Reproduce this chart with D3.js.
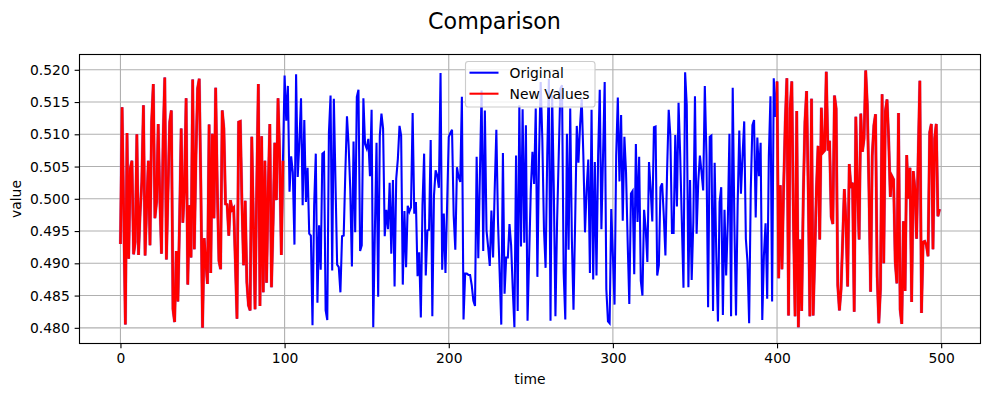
<html>
<head>
    <script src="https://cdnjs.cloudflare.com/ajax/libs/d3/7.8.5/d3.min.js"></script>
    <style>
        html, body { margin: 0; padding: 0; background: white; }
        svg { display: block; font-family: "DejaVu Sans"; }
        .tick text { font-size: 13.89px; font-family: "DejaVu Sans"; fill: #000; }
        .label { font-size: 13.89px; fill: #000; }
    </style>
</head>
<body>
    <script>
        // values, one per time step
        var original = [
            0.4930, 0.5142, 0.4975, 0.4805, 0.5102, 0.4907, 0.5047, 0.5059, 0.4914, 0.4933,
            0.5100, 0.4913, 0.4979, 0.5026, 0.5145, 0.4912, 0.4990, 0.5059, 0.4928, 0.5119,
            0.5178, 0.4970, 0.4995, 0.5116, 0.5000, 0.4915, 0.5093, 0.5188, 0.4906, 0.5015,
            0.5119, 0.5137, 0.4829, 0.4809, 0.4919, 0.4841, 0.4964, 0.5109, 0.4963, 0.5015,
            0.5156, 0.4867, 0.4990, 0.4909, 0.5185, 0.4922, 0.5067, 0.5171, 0.5186, 0.5015,
            0.4800, 0.4939, 0.4902, 0.4868, 0.5115, 0.4885, 0.5101, 0.4970, 0.5172, 0.5015,
            0.4904, 0.4891, 0.5137, 0.5109, 0.4992, 0.4991, 0.4943, 0.4998, 0.4983, 0.4986,
            0.4902, 0.4814, 0.5119, 0.5120, 0.4995, 0.4897, 0.4997, 0.4871, 0.4835, 0.4827,
            0.5096, 0.4964, 0.4829, 0.5015, 0.5178, 0.4834, 0.5097, 0.4855, 0.5059, 0.4870,
            0.5015, 0.5116, 0.4863, 0.4964, 0.5087, 0.4998, 0.5156, 0.5067, 0.4913, 0.5059,
            0.5191, 0.5121, 0.5175, 0.5011, 0.5066, 0.5041, 0.4929, 0.5193, 0.5034, 0.5088,
            0.5156, 0.4990, 0.5122, 0.4995, 0.5048, 0.4946, 0.4943, 0.4804, 0.4990, 0.5070,
            0.4839, 0.4959, 0.4890, 0.5070, 0.5072, 0.4827, 0.4812, 0.5103, 0.5160, 0.4889,
            0.5155, 0.5026, 0.4898, 0.4894, 0.4855, 0.4942, 0.4943, 0.5041, 0.5128, 0.5083,
            0.5015, 0.4895, 0.5089, 0.4948, 0.5158, 0.5169, 0.4919, 0.4928, 0.5156, 0.5085,
            0.5078, 0.5093, 0.5035, 0.5138, 0.4801, 0.4950, 0.5087, 0.4848, 0.5098, 0.5132,
            0.5109, 0.4942, 0.4983, 0.4953, 0.5025, 0.4915, 0.5029, 0.4864, 0.5031, 0.5062,
            0.5113, 0.5098, 0.4867, 0.4981, 0.4894, 0.4989, 0.4980, 0.4987, 0.5133, 0.4977,
            0.4995, 0.4880, 0.4917, 0.4816, 0.4990, 0.5070, 0.4881, 0.4951, 0.4952, 0.5091,
            0.4818, 0.5005, 0.5044, 0.5036, 0.5017, 0.5195, 0.4890, 0.4977, 0.4885, 0.4990,
            0.5096, 0.5102, 0.5107, 0.4974, 0.4921, 0.5049, 0.5034, 0.5026, 0.5158, 0.4813,
            0.4884, 0.4884, 0.4882, 0.4882, 0.4866, 0.4842, 0.4834, 0.5065, 0.4908, 0.5041,
            0.5168, 0.4919, 0.5137, 0.4951, 0.4925, 0.4896, 0.4982, 0.4909, 0.5015, 0.5107,
            0.4964, 0.4886, 0.4805, 0.5071, 0.4853, 0.4909, 0.4909, 0.4961, 0.4928, 0.4860,
            0.4801, 0.5067, 0.4826, 0.5145, 0.4926, 0.5139, 0.4932, 0.5114, 0.4811, 0.4912,
            0.5015, 0.5073, 0.5023, 0.5140, 0.4879, 0.5067, 0.5181, 0.5093, 0.4953, 0.4893,
            0.5067, 0.5186, 0.4811, 0.5160, 0.5015, 0.4818, 0.4964, 0.5067, 0.5171, 0.5176,
            0.4886, 0.4813, 0.5101, 0.4921, 0.5140, 0.4938, 0.4828, 0.4964, 0.5113, 0.5056,
            0.5114, 0.5155, 0.5067, 0.4948, 0.5015, 0.5061, 0.4885, 0.5138, 0.4875, 0.5057,
            0.4881, 0.5067, 0.5169, 0.4953, 0.5067, 0.5181, 0.4860, 0.4810, 0.4807, 0.4984,
            0.4912, 0.4836, 0.5067, 0.5157, 0.5027, 0.5130, 0.4966, 0.5096, 0.5041, 0.4933,
            0.4837, 0.5008, 0.5012, 0.4883, 0.5085, 0.4964, 0.5065, 0.4873, 0.4850, 0.4983,
            0.4953, 0.4902, 0.5057, 0.5015, 0.4965, 0.5111, 0.5112, 0.4881, 0.4897, 0.5018,
            0.5024, 0.4974, 0.4912, 0.5041, 0.5138, 0.5098, 0.4947, 0.4947, 0.5099, 0.4988,
            0.5149, 0.5067, 0.4964, 0.4862, 0.5196, 0.5145, 0.4863, 0.5029, 0.4874, 0.4964,
            0.5159, 0.4946, 0.5026, 0.5067, 0.5041, 0.5013, 0.5175, 0.5067, 0.4832, 0.5096,
            0.5098, 0.4826, 0.5056, 0.4912, 0.4810, 0.4995, 0.5018, 0.4820, 0.4983, 0.4881,
            0.4964, 0.5101, 0.4818, 0.5172, 0.4964, 0.4819, 0.4990, 0.5106, 0.5008, 0.5067,
            0.5120, 0.4938, 0.4902, 0.4807, 0.5015, 0.5114, 0.5122, 0.4971, 0.5095, 0.5035,
            0.5087, 0.4812, 0.4912, 0.4962, 0.4845, 0.5067, 0.5159, 0.4841, 0.5187, 0.5127,
            0.5182, 0.4877, 0.5021, 0.4891, 0.5015, 0.5119, 0.5187, 0.4819, 0.5140, 0.5182,
            0.4964, 0.4818, 0.5136, 0.4801, 0.4937, 0.4826, 0.5005, 0.5119, 0.5167, 0.5015,
            0.4818, 0.5155, 0.4819, 0.4912, 0.5015, 0.5082, 0.4937, 0.5141, 0.5072, 0.5075,
            0.5197, 0.5075, 0.5090, 0.4972, 0.4961, 0.5160, 0.5140, 0.4866, 0.4827, 0.4860,
            0.4938, 0.5015, 0.4964, 0.4864, 0.5054, 0.5017, 0.5025, 0.4825, 0.5127, 0.5015,
            0.4937, 0.5132, 0.5073, 0.5093, 0.5199, 0.5145, 0.5015, 0.4856, 0.5067, 0.5114,
            0.5131, 0.4881, 0.4807, 0.4860, 0.5162, 0.4900, 0.5136, 0.5154, 0.5093, 0.5003,
            0.5035, 0.5030, 0.4902, 0.4869, 0.5133, 0.4828, 0.4806, 0.4965, 0.4857, 0.5068,
            0.5000, 0.5048, 0.4840, 0.5043, 0.5015, 0.4938, 0.5067, 0.5183, 0.4823, 0.4933,
            0.4934, 0.4928, 0.4911, 0.5103, 0.5116, 0.4922, 0.5093, 0.5116, 0.4973, 0.4984
        ];
        // the red line only covers the two ends of the series
        var newRanges = [[0, 100], [400, 500]];

        var xTicks = [0, 100, 200, 300, 400, 500];
        var yTicks = [0.480, 0.485, 0.490, 0.495, 0.500, 0.505, 0.510, 0.515, 0.520];
        var legendLabels = ["Original", "New Values"];

        var width = 989, height = 396;
        var plotLeft = 79.5, plotRight = 980.5, plotTop = 54.5, plotBottom = 343.5;

        var svg = d3.select("body").append("svg")
            .attr("width", width)
            .attr("height", height);

        var x = d3.scaleLinear().domain([-24.95, 523.95]).range([plotLeft, plotRight]);
        var y = d3.scaleLinear().domain([0.47757, 0.52237]).range([plotBottom, plotTop]);

        svg.append("text")
            .attr("x", width / 2)
            .attr("y", 29)
            .attr("text-anchor", "middle")
            .style("font-size", "22.2px")
            .text("Comparison");

        // grid under the lines
        var grid = svg.append("g").attr("stroke", "#b0b0b0").attr("stroke-width", 1.11);
        xTicks.forEach(function (t) {
            grid.append("line").attr("x1", x(t)).attr("x2", x(t)).attr("y1", plotTop).attr("y2", plotBottom);
        });
        yTicks.forEach(function (t) {
            grid.append("line").attr("x1", plotLeft).attr("x2", plotRight).attr("y1", y(t)).attr("y2", y(t));
        });

        var line = d3.line()
            .x(function (d) { return x(d[0]); })
            .y(function (d) { return y(d[1]); });

        var points = original.map(function (v, i) { return [i, v]; });

        svg.append("path")
            .attr("fill", "none")
            .attr("stroke", "blue")
            .attr("stroke-width", 2.08)
            .attr("d", line(points));

        // red sits on the blue with a soft purple edge and looks a bit heavier
        newRanges.forEach(function (r) {
            var d = line(points.slice(r[0], r[1]));
            svg.append("path")
                .attr("fill", "none")
                .attr("stroke", "#a060c0")
                .attr("stroke-opacity", 0.45)
                .attr("stroke-width", 3.4)
                .attr("d", d);
            svg.append("path")
                .attr("fill", "none")
                .attr("stroke", "red")
                .attr("stroke-width", 2.6)
                .attr("d", d);
        });

        var xAxisGroup = svg.append("g")
            .attr("transform", "translate(0," + plotBottom + ")");
        d3.axisBottom(x).tickValues(xTicks).tickSize(4.86).tickPadding(4.86)
            .tickFormat(d3.format("d"))(xAxisGroup);

        var yAxisGroup = svg.append("g")
            .attr("transform", "translate(" + plotLeft + ",0)");
        d3.axisLeft(y).tickValues(yTicks).tickSize(4.86).tickPadding(4.86)
            .tickFormat(d3.format(".3f"))(yAxisGroup);

        [xAxisGroup, yAxisGroup].forEach(function (g) {
            g.selectAll("line").attr("stroke", "#000").attr("stroke-width", 1.11);
            g.select(".domain").remove();
        });

        svg.append("rect")
            .attr("x", plotLeft).attr("y", plotTop)
            .attr("width", plotRight - plotLeft).attr("height", plotBottom - plotTop)
            .attr("fill", "none")
            .attr("stroke", "#000")
            .attr("stroke-width", 1.11);

        svg.append("text")
            .attr("class", "label")
            .attr("x", (plotLeft + plotRight) / 2)
            .attr("y", 384)
            .attr("text-anchor", "middle")
            .text("time");

        svg.append("text")
            .attr("class", "label")
            .attr("transform", "translate(21," + (plotTop + plotBottom) / 2 + ") rotate(-90)")
            .attr("text-anchor", "middle")
            .text("value");

        // legend
        var legend = svg.append("g");
        legend.append("rect")
            .attr("x", 465.5).attr("y", 61.5)
            .attr("width", 129.5).attr("height", 45.5)
            .attr("rx", 2.8)
            .attr("fill", "white")
            .attr("fill-opacity", 0.8)
            .attr("stroke", "#cccccc")
            .attr("stroke-width", 1.11);

        var legendColors = ["blue", "red"];
        legendLabels.forEach(function (name, i) {
            var ly = 72.7 + i * 21;
            legend.append("line")
                .attr("x1", 469.5).attr("x2", 498.5)
                .attr("y1", ly).attr("y2", ly)
                .attr("stroke", legendColors[i])
                .attr("stroke-width", 2.08);
            legend.append("text")
                .attr("class", "label")
                .attr("x", 509.5)
                .attr("y", ly + 5)
                .text(name);
        });
    </script>
</body>
</html>
